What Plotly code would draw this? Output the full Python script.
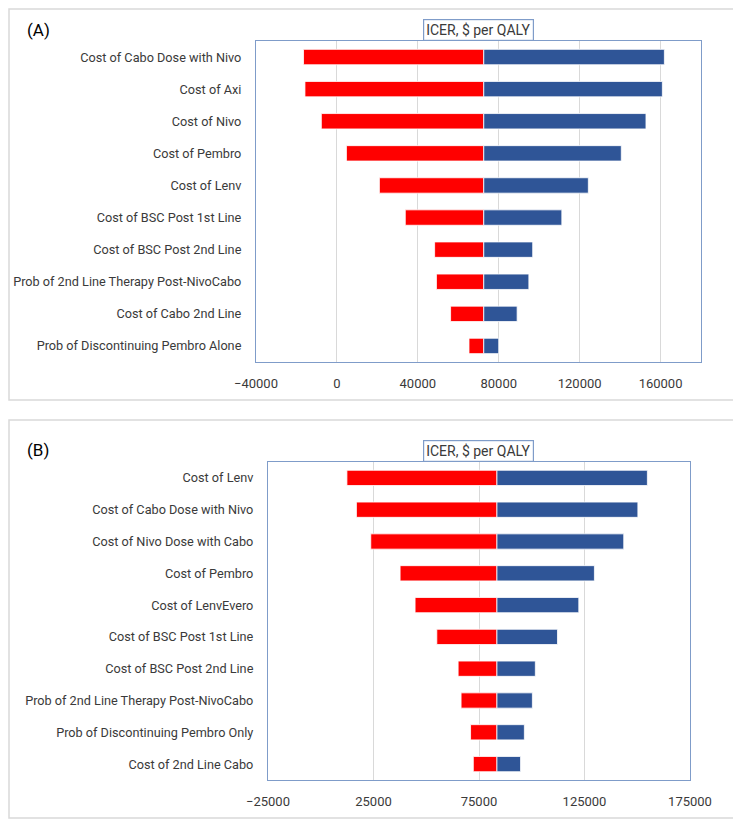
import plotly.graph_objects as go

# Panel A: one-way sensitivity analysis (ICER, $ per QALY)
a_labels = ["Cost of Cabo Dose with Nivo", "Cost of Axi", "Cost of Nivo", "Cost of Pembro",
            "Cost of Lenv", "Cost of BSC Post 1st Line", "Cost of BSC Post 2nd Line",
            "Prob of 2nd Line Therapy Post-NivoCabo", "Cost of Cabo 2nd Line",
            "Prob of Discontinuing Pembro Alone"]
a_low = [-16500, -15800, -7700, 4700, 21000, 33800, 48300, 49200, 56200, 65300]
a_high = [161900, 160900, 152800, 140600, 124300, 111200, 96800, 94900, 89100, 80000]
a_base = 72600

# Panel B
b_labels = ["Cost of Lenv", "Cost of Cabo Dose with Nivo", "Cost of Nivo Dose with Cabo",
            "Cost of Pembro", "Cost of LenvEvero", "Cost of BSC Post 1st Line",
            "Cost of BSC Post 2nd Line", "Prob of 2nd Line Therapy Post-NivoCabo",
            "Prob of Discontinuing Pembro Only", "Cost of 2nd Line Cabo"]
b_low = [12400, 16900, 23700, 37600, 44700, 55000, 65100, 66500, 71000, 72300]
b_high = [154800, 150300, 143600, 129700, 122300, 112200, 101700, 100300, 96500, 94700]
b_base = 83500

RED = "#FF0000"
BLUE = "#2F5597"
FONT = "Roboto"
TXT = "#3A3A3A"
# page has an 8px body margin, so the figure is sized to fill the rest of the window
OFF = 8
W, H = 741 - OFF, 819 - OFF


def px(x):
    return (x - OFF) / W


def py(y):
    return 1 - (y - OFF) / H


fig = go.Figure()


def add_panel(labels, low, high, base, xa, ya):
    fig.add_trace(go.Bar(
        y=labels, x=[base - v for v in low], base=low, orientation="h",
        marker=dict(color=RED, line=dict(color="white", width=0.8)),
        width=0.48, xaxis=xa, yaxis=ya, showlegend=False))
    fig.add_trace(go.Bar(
        y=labels, x=[v - base for v in high], base=[base] * len(high), orientation="h",
        marker=dict(color=BLUE, line=dict(color="white", width=0.8)),
        width=0.48, xaxis=xa, yaxis=ya, showlegend=False))


add_panel(a_labels, a_low, a_high, a_base, "x", "y")
add_panel(b_labels, b_low, b_high, b_base, "x2", "y2")

line_common = dict(showline=True, linecolor="#7F9CC9", linewidth=1.2, mirror=True,
                   zeroline=False, automargin=False)
# invisible outside ticks push the category labels away from the plot edge
ycat = dict(ticks="outside", ticklen=11, tickcolor="rgba(0,0,0,0)",
            tickfont=dict(size=12.7), autorange="reversed", showgrid=False, **line_common)
xnum = dict(ticks="", tickformat="d", showgrid=True, gridcolor="#D9D9D9",
            ticklabelstandoff=9, **line_common)

fig.update_layout(
    width=W, height=H, margin=dict(l=0, r=0, t=0, b=0),
    paper_bgcolor="white", plot_bgcolor="white",
    barmode="overlay",
    font=dict(family=FONT, size=13, color=TXT),
    xaxis=dict(domain=[px(256), px(701)], anchor="y", range=[-40000, 180000],
               tickvals=[-40000, 0, 40000, 80000, 120000, 160000], **xnum),
    yaxis=dict(domain=[py(362), py(41)], anchor="x", **ycat),
    xaxis2=dict(domain=[px(268), px(690)], anchor="y2", range=[-25000, 175000],
                tickvals=[-25000, 25000, 75000, 125000, 175000], **xnum),
    yaxis2=dict(domain=[py(780), py(462)], anchor="x2", **ycat),
)

# panel frames
for y0, y1 in [(9, 400), (420, 818)]:
    fig.add_shape(type="rect", xref="paper", yref="paper",
                  x0=px(9), x1=px(740), y0=py(y1), y1=py(y0),
                  line=dict(color="#D9D9D9", width=1.5))

# panel letters
for txt, yc in [("(A)", 30), ("(B)", 450)]:
    fig.add_annotation(text=txt, xref="paper", yref="paper", x=px(25), y=py(yc),
                       xanchor="left", yanchor="middle", showarrow=False,
                       font=dict(family=FONT, size=17, color="black"))

# boxed axis titles sitting on top of each plot area
for ybot in [41, 462]:
    fig.add_annotation(text="ICER, $ per QALY", xref="paper", yref="paper",
                       x=px(478), y=py(ybot), xanchor="center", yanchor="bottom",
                       showarrow=False, bordercolor="#7F9CC9", borderwidth=1.2,
                       borderpad=2, bgcolor="white",
                       font=dict(family=FONT, size=14, color=TXT))

fig.write_html("out.html")
